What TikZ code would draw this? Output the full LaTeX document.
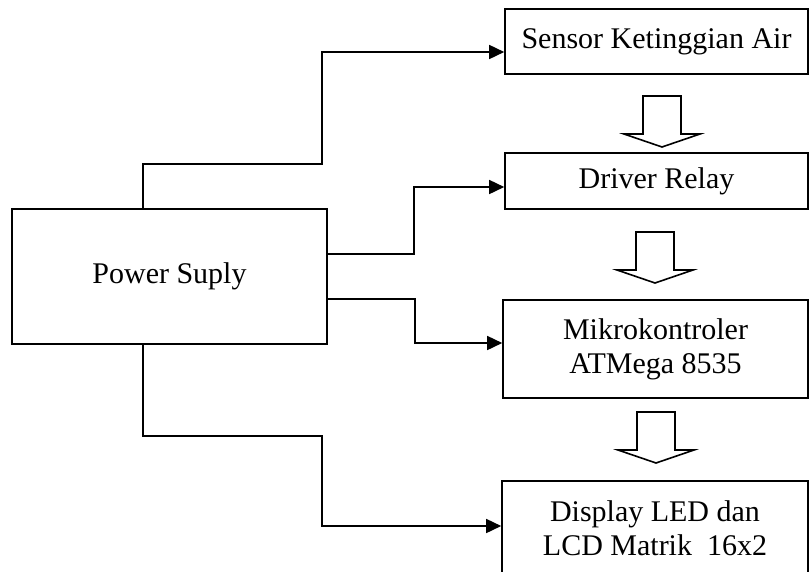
\documentclass[tikz,border=0pt]{standalone}
\usepackage{fontspec}
\setmainfont{Liberation Serif}
\usetikzlibrary{arrows.meta,calc}
\begin{document}
\begin{tikzpicture}[x=1pt,y=-1pt,
  box/.style={draw,line width=1.6pt,rectangle,align=center,inner sep=0pt,
    font=\fontsize{30}{34}\selectfont},
  conn/.style={line width=1.6pt,-{Triangle[length=15pt,width=14pt]}},
  hollow/.pic={\draw[line width=1.6pt,line join=miter,fill=white]
     (-19,0) -- (-19,38) -- (-38,38) -- (0,51) -- (38,38) -- (19,38) -- (19,0) -- cycle;}]
\useasboundingbox (0,0) rectangle (809,571);
\clip (0,0) rectangle (809,571);
\fill[white] (0,0) rectangle (809,571);

\node[box,minimum width=315pt,minimum height=135pt] (ps) at (169.5,276.5) {Power Suply};
\node[box,minimum width=303pt,minimum height=65pt] (sensor) at (656.5,41.5) {Sensor Ketinggian Air};
\node[box,minimum width=303pt,minimum height=56pt] (driver) at (656.5,181) {Driver Relay};
\node[box,minimum width=305pt,minimum height=98pt] (mikro) at (655.5,349) {Mikrokontroler\\ATMega 8535};
\node[box,minimum width=306pt,minimum height=95pt] (display) at (655,528.5) {Display LED dan\\LCD Matrik\ \ 16x2};

\pic at (662,96) {hollow};
\pic at (655,232) {hollow};
\pic at (656,412) {hollow};

\coordinate (tb) at (143,164);
\coordinate (tm) at (322,52);
\draw[conn] (ps.north -| tb) -- (tb) -| (tm) -- (tm -| sensor.west);

\coordinate (d1) at (414,254);
\coordinate (d2) at (414,187);
\draw[conn] (ps.east |- d1) -- (d1) -- (d2) -- (d2 -| driver.west);

\coordinate (m1) at (415,299);
\coordinate (m2) at (415,343);
\draw[conn] (ps.east |- m1) -- (m1) -- (m2) -- (m2 -| mikro.west);

\coordinate (b1) at (143,436);
\coordinate (b2) at (322,526);
\draw[conn] (ps.south -| b1) -- (b1) -| (b2) -- (b2 -| display.west);
\end{tikzpicture}
\end{document}
